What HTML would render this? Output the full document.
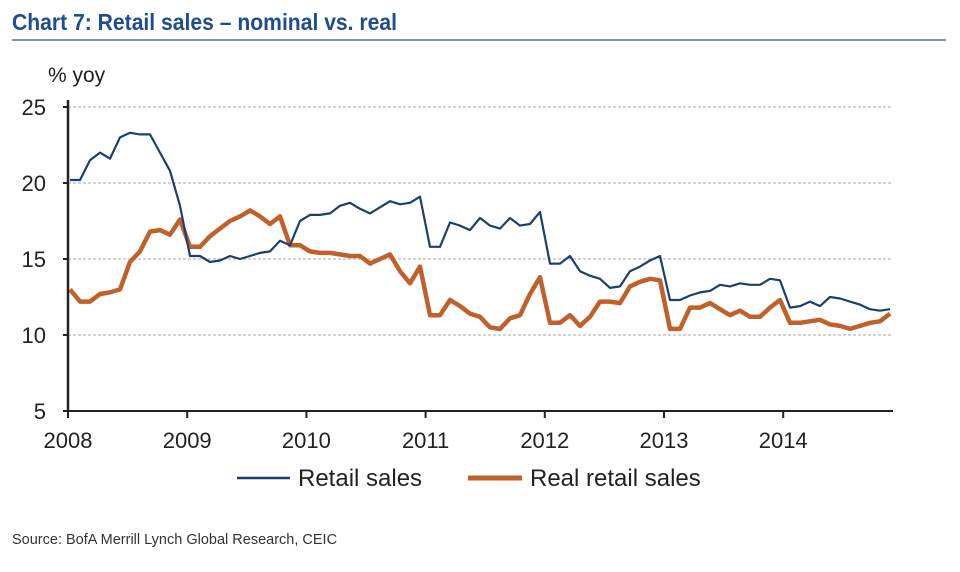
<!DOCTYPE html>
<html><head><meta charset="utf-8"><style>
body{margin:0;background:#fff;width:960px;height:567px;overflow:hidden;font-family:"Liberation Sans",sans-serif}
</style></head><body>
<svg width="960" height="567" font-family="Liberation Sans, sans-serif">
<text x="12" y="30" font-size="23" font-weight="bold" fill="#1f4e8c" textLength="385" lengthAdjust="spacingAndGlyphs">Chart 7: Retail sales – nominal vs. real</text>
<line x1="12" y1="40" x2="946" y2="40" stroke="#4a6fa5" stroke-width="1.5"/>
<text x="48" y="82" font-size="21" fill="#222">% yoy</text>
<g id="grid"></g><g id="series"></g>
<line x1="68" y1="411" x2="893" y2="411" stroke="#222" stroke-width="2"/>
<line x1="68" y1="100" x2="68" y2="411" stroke="#222" stroke-width="2.5"/>
<g>
<line x1="237" y1="478" x2="290" y2="478" stroke="#1c3f6e" stroke-width="2.5"/>
<text x="298" y="486" font-size="24" fill="#222">Retail sales</text>
<line x1="468" y1="478" x2="522" y2="478" stroke="#c0602a" stroke-width="5"/>
<text x="530" y="486" font-size="24" fill="#222">Real retail sales</text>
</g>
<text x="12" y="544" font-size="14.5" fill="#333">Source: BofA Merrill Lynch Global Research, CEIC</text>
</svg>
<script>
const years=["2008","2009","2010","2011","2012","2013","2014"];
const yTicks=[5,10,15,20,25];
const retail=[20.2,20.2,21.5,22.0,21.6,23.0,23.3,23.2,23.2,22.0,20.8,18.5,
15.2,15.2,14.8,14.9,15.2,15.0,15.2,15.4,15.5,16.2,15.9,17.5,
17.9,17.9,18.0,18.5,18.7,18.3,18.0,18.4,18.8,18.6,18.7,19.1,
15.8,15.8,17.4,17.2,16.9,17.7,17.2,17.0,17.7,17.2,17.3,18.1,
14.7,14.7,15.2,14.2,13.9,13.7,13.1,13.2,14.2,14.5,14.9,15.2,
12.3,12.3,12.6,12.8,12.9,13.3,13.2,13.4,13.3,13.3,13.7,13.6,
11.8,11.9,12.2,11.9,12.5,12.4,12.2,12.0,11.7,11.6,11.7];
const realRetail=[13.0,12.2,12.2,12.7,12.8,13.0,14.8,15.5,16.8,16.9,16.6,17.6,
15.8,15.8,16.5,17.0,17.5,17.8,18.2,17.8,17.3,17.8,15.9,15.9,
15.5,15.4,15.4,15.3,15.2,15.2,14.7,15.0,15.3,14.2,13.4,14.5,
11.3,11.3,12.3,11.9,11.4,11.2,10.5,10.4,11.1,11.3,12.7,13.8,
10.8,10.8,11.3,10.6,11.2,12.2,12.2,12.1,13.2,13.5,13.7,13.6,
10.4,10.4,11.8,11.8,12.1,11.7,11.3,11.6,11.2,11.2,11.8,12.3,
10.8,10.8,10.9,11.0,10.7,10.6,10.4,10.6,10.8,10.9,11.4];
const NS="http://www.w3.org/2000/svg";
const X0=68,YW=119.2,Y0=411,PU=15.2;
function xm(i){return 70+i*10;}
function yv(v){return Y0-(v-5)*PU;}
const grid=document.getElementById('grid');
yTicks.forEach(t=>{
 const y=yv(t);
 if(t>5){const l=document.createElementNS(NS,'line');
 l.setAttribute('x1',X0);l.setAttribute('x2',893);l.setAttribute('y1',y);l.setAttribute('y2',y);
 l.setAttribute('stroke','#aaa');l.setAttribute('stroke-dasharray','3,2');
 
 
 grid.appendChild(l);}
 const tk=document.createElementNS(NS,'line');
 tk.setAttribute('x1',X0-5);tk.setAttribute('x2',X0);tk.setAttribute('y1',y);tk.setAttribute('y2',y);tk.setAttribute('stroke','#222');tk.setAttribute('stroke-width','2');
 
 
 grid.appendChild(tk);
 const tx=document.createElementNS(NS,'text');
 tx.setAttribute('x',46);tx.setAttribute('y',y+8);tx.setAttribute('text-anchor','end');tx.setAttribute('font-size','22');tx.setAttribute('fill','#222');
 tx.textContent=t;
 
 
 grid.appendChild(tx);
});
years.forEach((yr,k)=>{
 const x=X0+k*YW;
 const tk=document.createElementNS(NS,'line');
 tk.setAttribute('x1',x);tk.setAttribute('x2',x);tk.setAttribute('y1',Y0);tk.setAttribute('y2',Y0+7);tk.setAttribute('stroke','#222');tk.setAttribute('stroke-width','2');
 
 
 grid.appendChild(tk);
 const tx=document.createElementNS(NS,'text');
 tx.setAttribute('x',x);tx.setAttribute('y',448);tx.setAttribute('text-anchor','middle');tx.setAttribute('font-size','22');tx.setAttribute('fill','#222');
 tx.textContent=yr;
 
 
 grid.appendChild(tx);
});
const sg=document.getElementById('series');
function line(arr,color,w,name){
 const p=document.createElementNS(NS,'polyline');
 p.setAttribute('points',arr.map((v,i)=>xm(i).toFixed(1)+','+yv(v).toFixed(1)).join(' '));
 p.setAttribute('fill','none');p.setAttribute('stroke',color);p.setAttribute('stroke-width',w);p.setAttribute('stroke-linejoin','round');
 
 
 sg.appendChild(p);
}
line(realRetail,'#c0602a',4.5,'real-retail-sales-line');
line(retail,'#1c3f6e',2.2,'retail-sales-line');
</script>
</body></html>
